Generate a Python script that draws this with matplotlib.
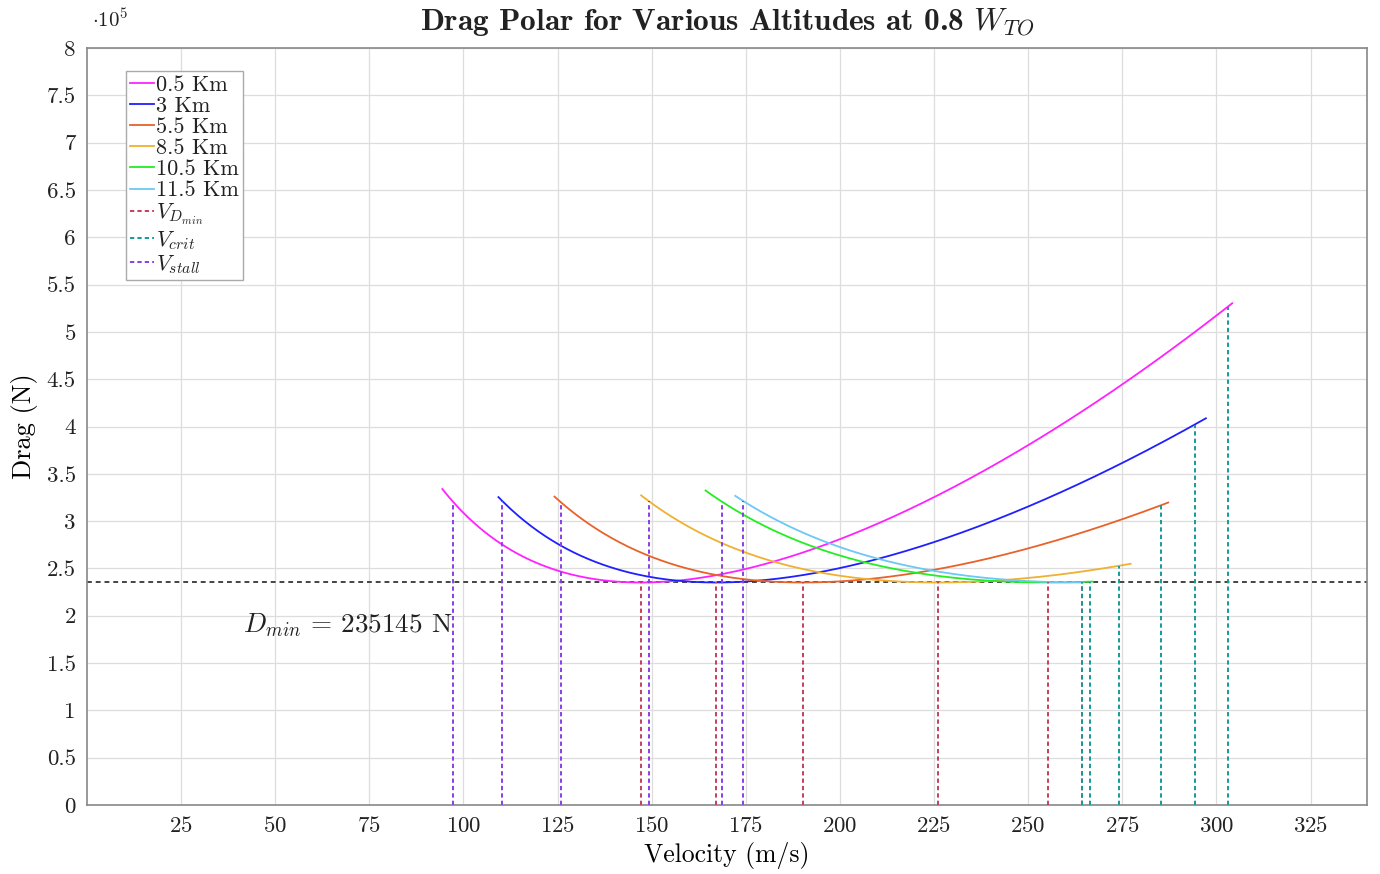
import matplotlib
matplotlib.use('Agg')
import matplotlib.pyplot as plt
import numpy as np
from matplotlib.ticker import FuncFormatter

plt.rcParams['font.family'] = 'cmr10'
plt.rcParams['mathtext.fontset'] = 'cm'
plt.rcParams['axes.formatter.use_mathtext'] = True
plt.rcParams['text.color'] = '#222222'
plt.rcParams['xtick.color'] = '#222222'
plt.rcParams['ytick.color'] = '#222222'

# ---- data (velocities in m/s, drag in N) ----
altitudes = ['0.5 Km', '3 Km', '5.5 Km', '8.5 Km', '10.5 Km', '11.5 Km']
colors = ['#ff22ff', '#1f1fff', '#e8622a', '#f0b030', '#22ee22', '#6cc8f4']
D_min = 235145
v_dmin = [147.1, 167.2, 190.2, 226.1, 255.2, 264.2]
v_stall = [97.3, 110.2, 125.9, 149.3, 168.8, 174.3]
v_crit = [303.0, 294.2, 285.3, 274.1, 266.3, 264.2]
v_start = [94.4, 109.3, 124.2, 147.2, 164.3, 172.2]
v_end = [304.2, 297.2, 287.2, 277.2, 267.0, 264.6]

C_VDMIN = '#c2405e'
C_VCRIT = '#169a9a'
C_VSTALL = '#8a3fe6'


def drag(v, vmd):
    # parabolic drag polar: D = Dmin/2 * ((V/Vmd)^2 + (Vmd/V)^2)
    u = np.asarray(v) / vmd
    return 0.5 * D_min * (u ** 2 + 1.0 / u ** 2)


fig = plt.figure(figsize=(13.8, 8.74), dpi=100)
ax = fig.add_axes([0.063, 0.079, 0.9276, 0.866])

for name, c, vmd, v0, v1 in zip(altitudes, colors, v_dmin, v_start, v_end):
    v = np.linspace(v0, v1, 300)
    ax.plot(v, drag(v, vmd), color=c, lw=1.3, label=name, zorder=3)

dash = (0, (2.2, 1.6))
for i, (vmd, vs, vc) in enumerate(zip(v_dmin, v_stall, v_crit)):
    ax.plot([vmd, vmd], [0, D_min], color=C_VDMIN, lw=1.4, ls=dash,
            label=r'$V_{D_{min}}$' if i == 0 else None, zorder=4)
    ax.plot([vc, vc], [0, drag(vc, vmd)], color=C_VCRIT, lw=1.4, ls=dash,
            label=r'$V_{crit}$' if i == 0 else None, zorder=4)
    ax.plot([vs, vs], [0, drag(vs, vmd)], color=C_VSTALL, lw=1.4, ls=dash,
            label=r'$V_{stall}$' if i == 0 else None, zorder=4)

ax.axhline(D_min, color='#444444', lw=1.4, ls=(0, (2.5, 2)), zorder=2)
ax.text(41.5, 1.90e5, r'$D_{min}$ = 235145 N', fontsize=19.5, va='center', ha='left')

ax.set_xlim(0, 340)
ax.set_ylim(0, 8e5)
ax.set_xticks(np.arange(25, 326, 25))
ax.set_yticks(np.arange(0, 8.01e5, 0.5e5))
ax.yaxis.set_major_formatter(FuncFormatter(lambda y, p: f'{y / 1e5:g}'))
ax.tick_params(length=0, labelsize=16.5, pad=8)
ax.grid(True, color='#dddddd', lw=0.9, zorder=0)
for s in ax.spines.values():
    s.set_color('#888888')
    s.set_linewidth(1.2)

ax.text(0.004, 1.022, r'$\cdot 10^5$', transform=ax.transAxes, fontsize=15,
        ha='left', va='bottom')
ax.set_xlabel('Velocity (m/s)', fontsize=18.5, labelpad=4)
ax.set_ylabel('Drag (N)', fontsize=19, labelpad=6)
ax.set_title(r'Drag Polar for Various Altitudes at 0.8 $W_{TO}$',
             fontfamily='cmb10', fontsize=22.5, pad=13)

leg = ax.legend(loc='upper left', bbox_to_anchor=(0.0305, 0.97), fontsize=16,
                handlelength=1.05, handletextpad=0.1, labelspacing=0.07,
                borderpad=0.2, borderaxespad=0, fancybox=False, framealpha=1)
leg.get_frame().set_edgecolor('#aaaaaa')
leg.get_frame().set_linewidth(1.0)

fig.savefig('out.png', dpi=100)
